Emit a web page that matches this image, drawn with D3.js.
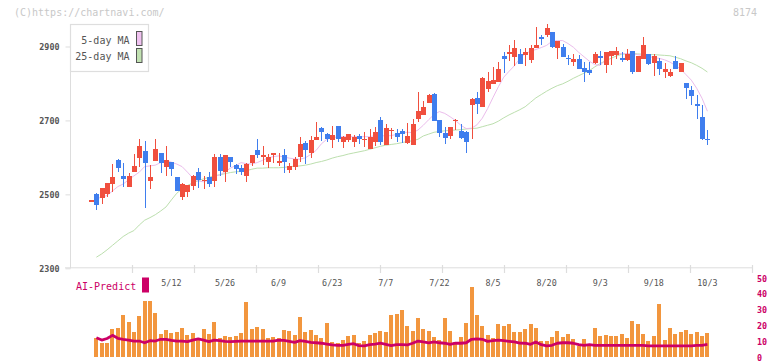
<!DOCTYPE html>
<html><head><meta charset="utf-8">
<script src="https://cdn.jsdelivr.net/npm/d3@7/dist/d3.min.js"></script>
<style>
body{margin:0;background:#fff;}
svg{display:block;}
text{font-family:"DejaVu Sans Mono","Liberation Mono",monospace;}
</style>
</head><body>
<svg id="c" width="772" height="361"></svg>
<script>
// ---------- data ----------
const dates = ["4/16","4/17","4/18","4/21","4/22","4/23","4/24","4/25","4/28","4/30",
"5/1","5/2","5/7","5/8","5/9","5/12","5/13","5/14","5/15","5/16","5/19","5/20","5/21","5/22","5/23","5/26","5/27","5/28","5/29","5/30",
"6/2","6/3","6/4","6/5","6/6","6/9","6/10","6/11","6/12","6/13","6/16","6/17","6/18","6/19","6/20","6/23","6/24","6/25","6/26","6/27","6/30",
"7/1","7/2","7/3","7/4","7/7","7/8","7/9","7/10","7/11","7/14","7/15","7/16","7/17","7/18","7/22","7/23","7/24","7/25","7/28","7/29","7/30","7/31",
"8/1","8/4","8/5","8/6","8/7","8/8","8/12","8/13","8/14","8/15","8/18","8/19","8/20","8/21","8/22","8/25","8/26","8/27","8/28","8/29",
"9/1","9/2","9/3","9/4","9/5","9/8","9/9","9/10","9/11","9/12","9/16","9/17","9/18","9/19","9/22","9/24","9/25","9/26","9/29","9/30",
"10/1","10/2","10/3"];

const opens = [2483,2500,2491,2502,2529,2594,2550,2521,2561,2599,2617,2537,2591,2612,2575,2587,2547,2494,2507,2523,
2560,2537,2547,2537,2601,2561,2601,2579,2572,2550,2585,2620,2601,2587,2606,2585,2606,2566,2575,2602,
2639,2612,2648,2679,2662,2647,2685,2641,2647,2641,2658,2648,2624,2642,2701,2633,2673,2666,2671,2638,
2633,2704,2716,2748,2771,2701,2665,2658,2700,2671,2668,2741,2762,2737,2785,2798,2804,2874,2880,2872,
2880,2878,2863,2895,2925,2931,2938,2895,2899,2869,2858,2866,2841,2836,2856,2874,2849,2875,2877,2868,
2863,2887,2831,2865,2879,2856,2860,2831,2821,2860,2831,2802,2782,2744,2708,2651];
const highs = [2485,2504,2516,2532,2581,2597,2585,2559,2608,2651,2645,2579,2651,2612,2631,2587,2547,2532,2525,2552,
2572,2550,2560,2608,2610,2606,2601,2583,2579,2586,2606,2649,2631,2608,2611,2611,2622,2584,2602,2656,
2644,2658,2696,2682,2666,2685,2685,2658,2662,2660,2664,2669,2677,2682,2709,2690,2680,2678,2678,2692,
2705,2777,2753,2771,2775,2701,2681,2683,2704,2690,2672,2762,2777,2818,2831,2845,2857,2885,2904,2917,
2892,2895,2904,2953,2931,2960,2938,2914,2906,2878,2879,2878,2857,2857,2885,2887,2885,2887,2898,2885,
2892,2887,2874,2926,2879,2881,2868,2856,2839,2874,2856,2802,2794,2768,2741,2674];
const lows = [2483,2458,2475,2494,2507,2561,2521,2521,2561,2575,2464,2514,2591,2558,2550,2550,2510,2485,2494,2511,
2516,2514,2520,2521,2550,2534,2573,2556,2552,2534,2577,2599,2579,2570,2585,2577,2558,2559,2566,2588,
2582,2599,2648,2644,2641,2626,2642,2626,2641,2629,2636,2629,2622,2631,2633,2633,2649,2641,2639,2636,
2633,2696,2716,2748,2699,2656,2636,2649,2674,2651,2612,2651,2717,2737,2777,2798,2804,2829,2861,2848,
2854,2848,2856,2895,2904,2926,2896,2866,2872,2851,2848,2839,2803,2822,2854,2850,2829,2850,2865,2857,
2860,2825,2831,2865,2850,2821,2822,2816,2818,2839,2831,2758,2741,2704,2647,2633];
const closes = [2484,2471,2516,2531,2547,2572,2542,2550,2576,2631,2585,2547,2622,2585,2594,2569,2510,2527,2525,2550,
2538,2539,2529,2601,2564,2606,2587,2568,2561,2582,2606,2606,2606,2601,2611,2590,2588,2577,2597,2635,
2620,2647,2655,2668,2649,2660,2649,2656,2662,2655,2650,2651,2656,2669,2642,2679,2675,2656,2662,2658,
2690,2725,2735,2768,2699,2665,2653,2681,2702,2653,2642,2759,2744,2814,2806,2809,2839,2866,2884,2895,
2854,2885,2895,2904,2923,2949,2899,2914,2872,2867,2865,2839,2831,2829,2879,2868,2885,2887,2887,2865,
2879,2830,2874,2904,2854,2874,2839,2838,2831,2839,2856,2788,2767,2739,2649,2648];

const ma5 = [null,2489,2492,2497,2509,2521,2528,2539,2550,2560,2575,2577,2579,2586,2592,2587,2582,2575,2560,2544,
2536,2534,2538,2550,2552,2561,2571,2578,2586,2583,2582,2586,2592,2599,2602,2604,2601,2598,2596,2595,
2599,2608,2619,2637,2649,2654,2655,2656,2656,2656,2656,2656,2656,2659,2659,2658,2659,2662,2667,2668,
2667,2674,2687,2702,2716,2724,2719,2710,2700,2687,2678,2679,2688,2706,2732,2762,2791,2817,2833,2848,
2867,2881,2887,2892,2897,2903,2914,2916,2916,2908,2898,2884,2872,2860,2851,2849,2864,2877,2880,2881,
2881,2880,2878,2875,2873,2870,2868,2864,2858,2849,2839,2824,2809,2787,2760,2725];
const ma25 = [null,2330,2339,2350,2362,2374,2386,2395,2402,2417,2430,2437,2445,2455,2466,2485,2503,2515,2524,2531,
2537,2542,2546,2550,2553,2556,2559,2561,2562,2564,2568,2571,2571,2572,2572,2572,2573,2575,2576,2577,
2579,2582,2586,2589,2593,2598,2602,2605,2609,2612,2615,2618,2622,2626,2630,2633,2635,2637,2640,2643,
2645,2649,2658,2663,2668,2670,2672,2673,2674,2675,2677,2678,2679,2683,2687,2691,2698,2707,2715,2722,
2729,2737,2749,2761,2770,2779,2787,2794,2799,2806,2814,2821,2828,2835,2845,2854,2861,2868,2874,2879,
2880,2881,2880,2879,2878,2878,2877,2876,2875,2871,2867,2861,2856,2849,2841,2831];

const volume = [null,12.4,9.2,9.2,17.9,18.7,26.8,22.5,16.2,26.1,35.6,35.6,28.2,14.9,17.3,15.6,16.2,18.7,14.1,15.6,
11.4,17.9,14.9,22.5,12.4,13.7,13.0,13.7,15.6,35.2,17.9,19.2,17.9,12.4,13.0,12.4,17.3,16.8,14.1,25.7,
16.2,17.3,14.1,12.0,21.9,9.9,9.2,10.9,13.5,14.1,8.9,10.5,14.1,15.6,16.6,16.2,26.8,27.4,29.9,19.8,
16.6,24.7,17.7,16.6,12.7,10.9,24.7,16.6,9.9,12.7,21.5,44.3,26.8,19.8,14.1,12.0,20.9,19.8,21.1,16.2,
16.2,17.7,21.1,18.4,10.3,10.3,12.8,16.8,12.8,14.7,11.4,7.2,11.4,7.2,18.4,13.5,13.8,13.5,13.5,14.7,
12.2,23.0,21.1,14.7,10.3,13.5,33.7,10.9,18.4,14.7,16.2,17.1,14.7,16.2,13.5,15.6];
const aiPredict = [null,12.4,10.9,11.9,13.9,12.0,11.4,10.9,10.3,10.3,9.2,10.5,10.3,11.4,11.4,10.7,10.3,10.3,9.9,10.9,
11.6,10.9,9.9,10.9,10.5,10.1,9.9,10.1,10.3,10.3,10.3,10.3,10.3,10.3,10.3,10.9,10.7,10.1,9.5,10.5,
10.1,9.5,9.2,8.9,8.4,7.8,7.6,7.6,8.2,8.6,7.4,7.2,8.0,8.4,8.9,8.2,7.4,8.0,8.0,7.8,
8.9,10.3,9.7,9.2,9.7,9.2,8.9,8.2,8.9,8.9,9.2,11.4,11.6,11.4,10.1,10.5,10.9,10.5,10.1,9.7,
9.0,8.9,8.2,9.7,8.0,7.2,7.6,8.9,9.2,9.2,8.9,8.0,7.6,8.0,7.6,7.6,7.6,7.6,7.6,7.6,
7.6,7.6,7.6,7.6,7.2,7.2,7.2,7.2,7.2,7.2,7.2,7.2,7.2,7.6,7.6,8.2];

const priceTicks = [2300, 2500, 2700, 2900];
const volTicks = [0, 10, 20, 30, 40, 50];
const labelDates = ["5/12","5/26","6/9","6/23","7/7","7/22","8/5","8/20","9/3","9/18","10/3"];
const legendItems = ["5-day MA", "25-day MA"];
const copyright = "(C)https://chartnavi.com/";
const code = "8174";
const aiLabel = "AI-Predict";

// ---------- drawing ----------
const C = {red:"#f04f3e", blue:"#3f7eee", vol:"#f2963e", ai:"#cc0066",
           ma5:"#ebbdec", ma25:"#bcdfae", axis:"#dddddd", txt:"#555555", light:"#c8c8c8"};
const svg = d3.select("#c");
const idx = d3.range(dates.length);

const x = d3.scaleLinear().domain([0, dates.length - 1]).range([91, 707.4]);
const y = d3.scaleLinear().domain([2300, 2900]).range([268.3, 46.5]);
const yv = d3.scaleLinear().domain([0, 50]).range([357.3, 278.3]);
const grid = d3.scaleLinear().domain([0, 11]).range([70, 752]);

// header texts
svg.append("text").attr("x", 14).attr("y", 16).attr("font-size", 10).attr("fill", C.light).text(copyright);
svg.append("text").attr("x", 757).attr("y", 16).attr("text-anchor", "end").attr("font-size", 10).attr("fill", C.light).text(code);

// y axis
const yAxis = d3.axisLeft(y).tickValues(priceTicks).tickSize(5).tickPadding(6).tickFormat(d3.format("d"));
const gy = svg.append("g").attr("transform", "translate(70.5,0)").call(yAxis);
gy.select(".domain").remove();
gy.selectAll(".tick line").attr("stroke", C.axis);
gy.selectAll(".tick text").attr("font-family", "DejaVu Sans Mono").attr("font-size", 8.4)
  .attr("font-weight", "bold").attr("fill", C.txt);
svg.append("line").attr("x1", 70.5).attr("x2", 70.5).attr("y1", 24).attr("y2", y(2300))
  .attr("stroke", C.axis);

// x axis line and grid ticks
svg.append("line").attr("x1", 65).attr("x2", 752).attr("y1", 267.8).attr("y2", 267.8).attr("stroke", C.axis);
const gx = svg.append("g").attr("transform", "translate(0,273)")
  .call(d3.axisTop(grid).tickValues(d3.range(1, 12)).tickSize(8).tickFormat(""));
gx.select(".domain").remove();
gx.selectAll(".tick line").attr("stroke", C.axis).attr("stroke-width", 1.2);

// date labels
svg.append("g").selectAll("text").data(labelDates).join("text")
  .attr("x", d => x(dates.indexOf(d))).attr("y", 285.5)
  .attr("text-anchor", "middle").attr("font-size", 8.4).attr("fill", C.txt).text(d => d);

// moving averages
const lineGen = arr => d3.line().defined(i => arr[i] != null).x(i => x(i)).y(i => y(arr[i]));
svg.append("path").attr("d", lineGen(ma25)(idx)).attr("fill", "none").attr("stroke", C.ma25).attr("stroke-width", 1);
svg.append("path").attr("d", lineGen(ma5)(idx)).attr("fill", "none").attr("stroke", C.ma5).attr("stroke-width", 1);

// candles
const cg = svg.append("g").attr("shape-rendering", "crispEdges");
const col = i => closes[i] >= opens[i] ? C.red : C.blue;
cg.selectAll("line").data(idx).join("line")
  .attr("x1", i => Math.round(x(i)) + 0.5).attr("x2", i => Math.round(x(i)) + 0.5)
  .attr("y1", i => y(highs[i])).attr("y2", i => y(lows[i]))
  .attr("stroke", col).attr("stroke-width", 1);
cg.selectAll("rect").data(idx).join("rect")
  .attr("x", i => Math.round(x(i)) - 2)
  .attr("width", 5)
  .attr("y", i => y(Math.max(opens[i], closes[i])))
  .attr("height", i => Math.max(1.5, Math.abs(y(opens[i]) - y(closes[i]))))
  .attr("fill", col);

// legend
const lg = svg.append("g");
lg.append("rect").attr("x", 70.5).attr("y", 24.5).attr("width", 78).attr("height", 47)
  .attr("fill", "#fff").attr("stroke", "#dedede").attr("stroke-width", 1.2);
lg.selectAll("text").data(legendItems).join("text")
  .attr("x", 129.5).attr("y", (d, i) => 43.5 + i * 16.5).attr("text-anchor", "end")
  .attr("font-size", 10).attr("fill", C.txt).text(d => d);
lg.selectAll("rect.sw").data([C.ma5, C.ma25]).join("rect").attr("class", "sw")
  .attr("x", 136.5).attr("y", (d, i) => 31.5 + i * 17).attr("width", 5.5).attr("height", 14)
  .attr("fill", (d, i) => i === 0 ? "#f0c2f0" : "#c2e2b2").attr("stroke", "#555").attr("stroke-width", 1);

// lower panel: bars
const vi = idx.filter(i => volume[i] != null);
svg.append("g").attr("shape-rendering", "crispEdges").selectAll("rect").data(vi).join("rect")
  .attr("x", i => Math.round(x(i)) - 2).attr("width", 4)
  .attr("y", i => yv(volume[i])).attr("height", i => yv(0) - yv(volume[i]))
  .attr("fill", C.vol);

// AI predict line
svg.append("path")
  .attr("d", d3.line().defined(i => aiPredict[i] != null).x(i => x(i)).y(i => yv(aiPredict[i]))(idx))
  .attr("fill", "none").attr("stroke", C.ai).attr("stroke-width", 2.8).attr("stroke-linejoin", "round");

// right axis
const ga = svg.append("g").attr("transform", "translate(752,0)")
  .call(d3.axisRight(yv).tickValues(volTicks).tickSize(0).tickPadding(5));
ga.select(".domain").remove();
ga.selectAll(".tick text").attr("font-family", "DejaVu Sans Mono").attr("font-size", 8.4)
  .attr("font-weight", "bold").attr("fill", C.ai);

// AI-Predict label
svg.append("text").attr("x", 76).attr("y", 289.5).attr("font-size", 10).attr("fill", C.ai).text(aiLabel);
svg.append("rect").attr("x", 142).attr("y", 277.5).attr("width", 7).attr("height", 15).attr("fill", C.ai);
</script>
</body></html>
